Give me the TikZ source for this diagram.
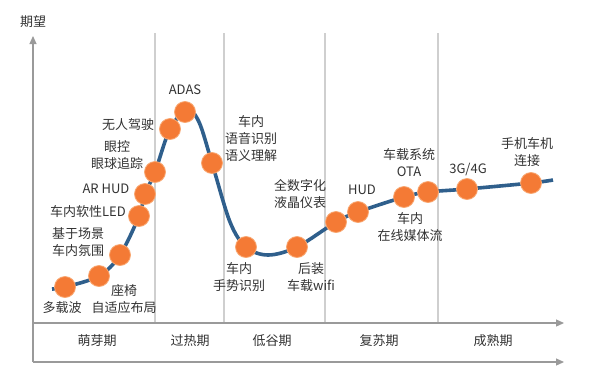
\documentclass[tikz,border=0pt]{standalone}
\usepackage{fontspec}
\setmainfont{Noto Sans CJK SC}
\usetikzlibrary{arrows.meta}
\definecolor{curveblue}{HTML}{2F5F8C}
\definecolor{dotorange}{HTML}{F47A35}
\definecolor{dotedge}{HTML}{F9A872}
\definecolor{axisgray}{HTML}{9A9A9A}
\definecolor{divgray}{HTML}{CFCFCF}
\definecolor{txt}{HTML}{333333}
\begin{document}
\begin{tikzpicture}[x=1pt,y=-1pt,
  lbl/.style={font=\fontsize{13}{17}\selectfont, text=txt, inner sep=0pt, align=center},
  dot/.style={circle, fill=dotorange, draw=dotedge, line width=0.8pt, minimum size=21pt, inner sep=0pt},
  axis/.style={draw=axisgray, line width=1.2pt},
  divider/.style={draw=divgray, line width=1.5pt},
  arr/.style={-{Triangle[length=8pt,width=7pt]}}]
\useasboundingbox (0,0) rectangle (599,370);
\fill[white] (0,0) rectangle (599,370);
% dividers
\foreach \i/\x in {1/155,2/224,3/325,4/438}{
  \coordinate (dt\i) at (\x,33);
  \coordinate (db\i) at (\x,322);
  \draw[divider] (dt\i) -- (db\i);
}
% axes
\coordinate (ytop) at (33,36);
\coordinate (ybot) at (33,362);
\coordinate (ymid) at (33,323);
\coordinate (xmid) at (564,323);
\coordinate (xbot) at (564,362);
\draw[axis,arr] (ybot) -- (ytop);
\draw[axis,arr] (ymid) -- (xmid);
\draw[axis,arr] (ybot) -- (xbot);
\node[lbl] (ylab) at (33,22) {期望};
% phase labels
\node[lbl] (p1) at (97,341) {萌芽期};
\node[lbl] (p2) at (190,341) {过热期};
\node[lbl] (p3) at (272,341) {低谷期};
\node[lbl] (p4) at (379,341) {复苏期};
\node[lbl] (p5) at (493,341) {成熟期};
% curve
\draw[curveblue, line width=3.6pt, line cap=butt] plot[smooth, tension=0.55] coordinates {
 (52,289) (65,287) (99,276) (120,255) (139,216) (145,194) (155,172) (170,129)
 (187,110) (199,122) (212,163) (230,222) (246,247) (268,255) (297,247) (336,222)
 (358,212) (404,197) (428,192) (467,189) (531,183) (553,180)};
% dots
\node[dot] (d1) at (65,287) {};
\node[dot] (d2) at (99,276) {};
\node[dot] (d3) at (120,255) {};
\node[dot] (d4) at (139,216) {};
\node[dot] (d5) at (145,194) {};
\node[dot] (d6) at (155,172) {};
\node[dot] (d7) at (170,129) {};
\node[dot] (d8) at (185,112) {};
\node[dot] (d9) at (212,163) {};
\node[dot] (d10) at (246,247) {};
\node[dot] (d11) at (297,247) {};
\node[dot] (d12) at (336,222) {};
\node[dot] (d13) at (358,212) {};
\node[dot] (d14) at (404,197) {};
\node[dot] (d15) at (428,192) {};
\node[dot] (d16) at (467,189) {};
\node[dot] (d17) at (531,183) {};
% labels
\node[lbl] (l1) at (62,308) {多载波};
\node[lbl] (l2) at (124,299) {座椅\\自适应布局};
\node[lbl] (l3) at (78,242) {基于场景\\车内氛围};
\node[lbl] (l4) at (88,212) {车内软性LED};
\node[lbl] (l5) at (106,189) {AR HUD};
\node[lbl] (l6) at (117,155) {眼控\\眼球追踪};
\node[lbl] (l7) at (128,125) {无人驾驶};
\node[lbl] (l8) at (185,90) {ADAS};
\node[lbl] (l9) at (251,139) {车内\\语音识别\\语义理解};
\node[lbl] (l10) at (239,277) {车内\\手势识别};
\node[lbl] (l11) at (311,277) {后装\\车载wifi};
\node[lbl] (l12) at (300,194) {全数字化\\液晶仪表};
\node[lbl] (l13) at (362,190) {HUD};
\node[lbl] (l14) at (409,163) {车载系统\\OTA};
\node[lbl] (l15) at (410,227) {车内\\在线媒体流};
\node[lbl] (l16) at (468,169) {3G/4G};
\node[lbl] (l17) at (527,152) {手机车机\\连接};
\end{tikzpicture}
\end{document}
